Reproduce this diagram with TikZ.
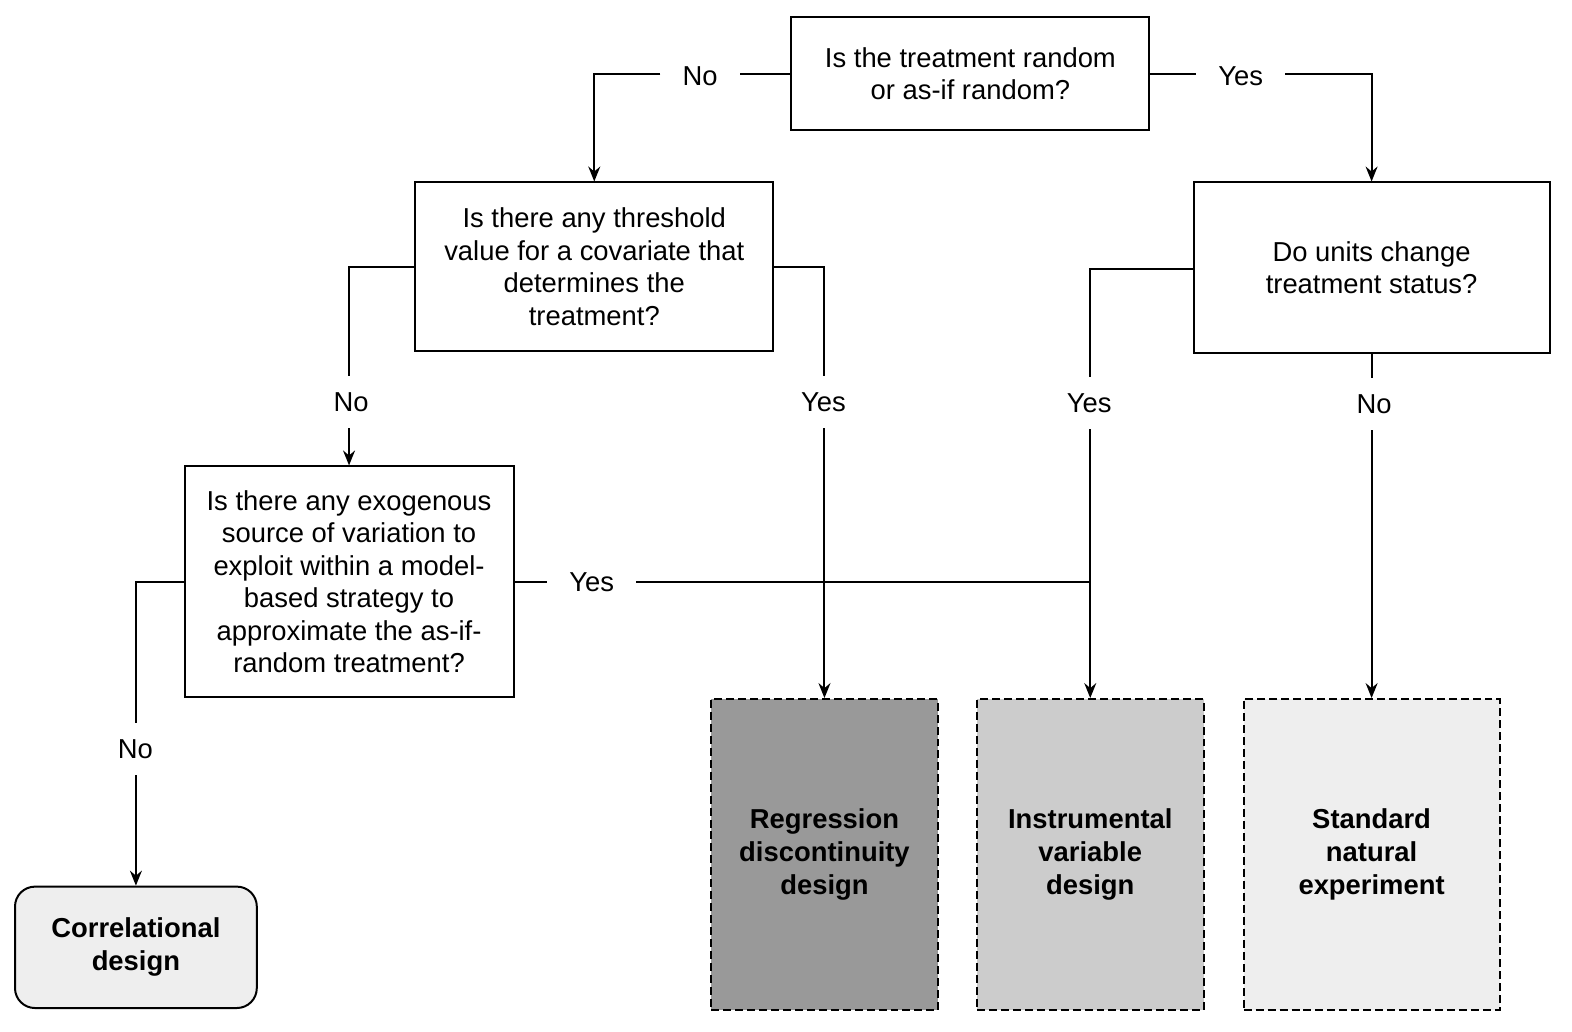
\documentclass[tikz,border=0pt]{standalone}
\usepackage{fontspec}
\setmainfont{Liberation Sans}
\usetikzlibrary{arrows.meta}
\definecolor{rdd}{HTML}{999999}
\definecolor{ivc}{HTML}{CCCCCC}
\definecolor{snc}{HTML}{EEEEEE}
\begin{document}
\begin{tikzpicture}[x=0.5015bp,y=-0.5015bp,
  qbox/.style={draw,line width=1pt,align=center,inner sep=0pt,font=\fontsize{13.75}{16.35}\selectfont},
  rbox/.style={draw,line width=1pt,dash pattern=on 4pt off 2pt,align=center,inner sep=0pt,
     minimum width=113.3bp,minimum height=155.5bp,font=\fontsize{13.75}{16.5}\selectfont\bfseries},
  lbl/.style={inner xsep=11pt,inner ysep=8pt,font=\fontsize{13.75}{16.5}\selectfont},
  conn/.style={line width=1pt},
  arr/.style={line width=1pt,-{Stealth[length=7.5pt,width=6pt,inset=2.5pt]}}]
\useasboundingbox (0,0) rectangle (1567.3,1028.9);
% boxes
\node[qbox,minimum width=179bp,minimum height=56.7bp] (q1) at (967.5,73.5)
  {Is the treatment random\\or as-if random?};
\node[qbox,minimum width=179bp,minimum height=84.3bp] (q2) at (592.5,266)
  {Is there any threshold\\value for a covariate that\\determines the\\treatment?};
\node[qbox,minimum width=178bp,minimum height=85.3bp] (q3) at (1367.5,267)
  {Do units change\\treatment status?};
\node[qbox,minimum width=164.5bp,minimum height=115.3bp] (q4) at (348,580)
  {Is there any exogenous\\source of variation to\\exploit within a model-\\based strategy to\\approximate the as-if-\\random treatment?};
\node[draw,line width=1pt,rounded corners=10pt,fill=snc,align=center,inner sep=0pt,
  minimum width=120.9bp,minimum height=60.7bp,font=\fontsize{13.75}{16.5}\selectfont\bfseries] (cd) at (135.5,944.5)
  {Correlational\\design};
\node[rbox,fill=rdd] (rd) at (822,852) {Regression\\discontinuity\\design};
\node[rbox,fill=ivc] (iv) at (1087,852) {Instrumental\\variable\\design};
\node[rbox,fill=snc,minimum width=127.9bp] (sn) at (1367.5,852) {Standard\\natural\\experiment};
% labels
\node[lbl] (l1) at (698,76) {No};
\node[lbl] (l2) at (1237,76) {Yes};
\node[lbl] (l3) at (350,401) {No};
\node[lbl] (l4) at (821,401) {Yes};
\node[lbl] (l5) at (1086,402) {Yes};
\node[lbl] (l6) at (1370,403) {No};
\node[lbl] (l7) at (590,580) {Yes};
\node[lbl] (l8) at (135,747) {No};
% connectors
\draw[conn] (q1.west) -- (l1.east|-q1.west);
\draw[arr] (l1.west|-q1.west) -| (q2.north);
\draw[conn] (q1.east) -- (l2.west|-q1.east);
\draw[arr] (l2.east|-q1.east) -| (q3.north);
\draw[conn] (q2.west) -| (l3.north-|q4.north);
\draw[arr] (l3.south-|q4.north) -- (q4.north);
\draw[conn] (q2.east) -| (l4.north-|rd.north);
\draw[arr] (l4.south-|rd.north) -- (rd.north);
\draw[conn] (q3.west |- 0,268) -| (l5.north-|iv.north);
\draw[arr] (l5.south-|iv.north) -- (iv.north);
\draw[conn] (q3.south) -- (l6.north-|sn.north);
\draw[arr] (l6.south-|sn.north) -- (sn.north);
\draw[conn] (q4.east) -- (l7.west|-q4.east);
\draw[conn] (l7.east|-q4.east) -- (iv.north|-q4.east);
\draw[conn] (q4.west) -| (l8.north-|cd.north);
\draw[arr] (l8.south-|cd.north) -- (cd.north);
\end{tikzpicture}
\end{document}
